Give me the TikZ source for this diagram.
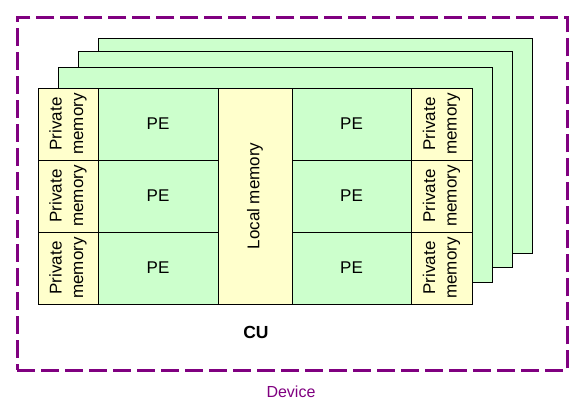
\documentclass[tikz,border=0pt]{standalone}
\usepackage{fontspec}
\setmainfont{Liberation Sans}
\definecolor{pegreen}{HTML}{CCFFCC}
\definecolor{memyellow}{HTML}{FFFFCC}
\definecolor{devpurple}{HTML}{800080}
\begin{document}
\begin{tikzpicture}[x=1pt,y=-1pt,
  box/.style={draw=black, line width=0.9pt, anchor=north west, inner sep=0pt, outer sep=0pt},
  card/.style={box, fill=pegreen},
  pecell/.style={box, fill=pegreen, minimum width=120pt, minimum height=72pt, font=\fontsize{17}{21}\selectfont},
  privcell/.style={box, fill=memyellow, minimum width=60pt, minimum height=72pt},
  privtext/.style={rotate=90, align=center, inner sep=0pt, font=\fontsize{17}{21.5}\selectfont},
]
\useasboundingbox (0,0) rectangle (582,419);
% device dashed boundary
\node[draw=devpurple, line width=2.7pt, dash pattern=on 18pt off 6pt, anchor=north west, inner sep=0pt,
      minimum width=550pt, minimum height=353pt] (device) at (16,16) {};
\node[text=devpurple, font=\fontsize{16}{19}\selectfont] (devlabel) at (291,392) {Device};
% stacked cards
\node[card, minimum width=434pt, minimum height=215pt] (card3) at (98,38) {};
\node[card, minimum width=434pt, minimum height=216pt] (card2) at (78,51) {};
\node[card, minimum width=434pt, minimum height=215pt] (card1) at (58,67) {};
% front grid
\node[privcell] (pl1) at (38,88) {};
\node[privcell] (pl2) at (38,160) {};
\node[privcell] (pl3) at (38,232) {};
\node[pecell] (pe1) at (98,88) {PE};
\node[pecell] (pe2) at (98,160) {PE};
\node[pecell] (pe3) at (98,232) {PE};
\node[box, fill=memyellow, minimum width=74pt, minimum height=216pt] (local) at (218,88) {};
\node[pecell, minimum width=119pt] (pe4) at (292,88) {PE};
\node[pecell, minimum width=119pt] (pe5) at (292,160) {PE};
\node[pecell, minimum width=119pt] (pe6) at (292,232) {PE};
\node[privcell, minimum width=61pt] (pr1) at (411,88) {};
\node[privcell, minimum width=61pt] (pr2) at (411,160) {};
\node[privcell, minimum width=61pt] (pr3) at (411,232) {};
% texts
\foreach \c in {pl1,pl2,pl3,pr1,pr2,pr3}{
  \node[privtext] at (\c.center) {Private\\memory};
}
\node[rotate=90, inner sep=0pt, font=\fontsize{17}{21}\selectfont] (localtext) at (local.center) {Local memory};
\node[font=\bfseries\fontsize{17.5}{21}\selectfont] (cu) at (256,332) {CU};
\end{tikzpicture}
\end{document}
